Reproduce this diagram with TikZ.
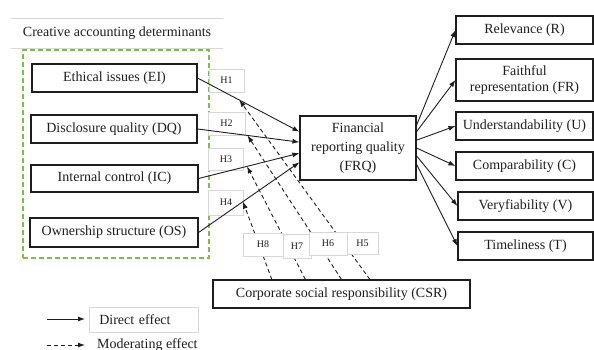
\documentclass[tikz,border=0pt]{standalone}
\usepackage{fontspec}
\setmainfont{Liberation Serif}
\usetikzlibrary{arrows.meta,calc}
\definecolor{inkc}{RGB}{30,30,30}
\definecolor{grp}{RGB}{120,192,70}
\definecolor{lbl}{RGB}{215,215,215}
\begin{document}
\begin{tikzpicture}[x=1pt,y=-1pt,
  box/.style={draw=inkc,line width=1.1pt,font=\fontsize{14}{16.5}\selectfont,text=inkc,inner sep=0pt,align=center},
  hlab/.style={draw=lbl,fill=white,line width=0.6pt,font=\fontsize{10}{12}\selectfont,text=inkc,inner sep=0pt},
  plain/.style={font=\fontsize{14}{16.5}\selectfont,text=inkc,inner sep=0pt},
  direct/.style={draw=inkc,line width=0.9pt,-{Latex[length=7pt,width=5pt]}},
  moder/.style={direct,dash pattern=on 4pt off 3pt},
]
\useasboundingbox (0,0) rectangle (594,350);

% group heading and dashed group frame
\node[plain,minimum width=212pt,minimum height=29pt] (title) at (117,33.5) {Creative accounting determinants};
\draw[lbl,line width=0.7pt] (title.north west) -- (title.north east);
\draw[lbl,line width=0.7pt] (title.south west) -- (title.south east);
\node[draw=grp,line width=1.2pt,dash pattern=on 5pt off 3pt,minimum width=186pt,minimum height=208pt,inner sep=0pt] (grpbox) at (116,154) {};

% determinants
\node[box,minimum width=165pt,minimum height=28pt] (ei) at (114.5,78) {Ethical issues (EI)};
\node[box,minimum width=166pt,minimum height=28pt] (dq) at (114,129) {Disclosure quality (DQ)};
\node[box,minimum width=167pt,minimum height=27pt] (ic) at (114.5,178.5) {Internal control (IC)};
\node[box,minimum width=168pt,minimum height=29pt] (os) at (114,232.5) {Ownership structure (OS)};

% central construct
\node[box,minimum width=116pt,minimum height=64pt,font=\fontsize{14}{19}\selectfont] (frq) at (358,148) {Financial\\reporting quality\\(FRQ)};

% qualitative characteristics
\node[box,minimum width=137pt,minimum height=28pt] (r) at (524.5,30) {Relevance (R)};
\node[box,minimum width=137pt,minimum height=42pt] (fr) at (524.5,80) {Faithful\\representation (FR)};
\node[box,minimum width=137pt,minimum height=28pt] (u) at (524.5,126) {Understandability (U)};
\node[box,minimum width=137pt,minimum height=28pt] (c) at (524.5,166) {Comparability (C)};
\node[box,minimum width=135pt,minimum height=28pt] (v) at (525.5,206) {Veryfiability (V)};
\node[box,minimum width=135pt,minimum height=28pt] (t) at (525.5,246) {Timeliness (T)};

% moderator
\node[box,minimum width=257pt,minimum height=28pt] (csr) at (341.5,294) {Corporate social responsibility (CSR)};

% hypothesis labels of the direct paths
\node[hlab,minimum width=35pt,minimum height=23pt] (h1) at (226.5,80.5) {H1};
\node[hlab,minimum width=37pt,minimum height=23pt] (h2) at (226.5,123.5) {H2};
\node[hlab,minimum width=35pt,minimum height=22pt] (h3) at (226,159) {H3};
\node[hlab,minimum width=35pt,minimum height=25pt] (h4) at (226,202.5) {H4};

% direct effects
\draw[direct] (ei.east) -- coordinate[pos=0.41] (p1) ($(frq.north west)!0.25!(frq.south west)$);
\draw[direct] (dq.east) -- coordinate[pos=0.49] (p2) ($(frq.north west)!0.41!(frq.south west)$);
\draw[direct] (ic.east) -- coordinate[pos=0.48] (p3) ($(frq.north west)!0.58!(frq.south west)$);
\draw[direct] (os.east) -- coordinate[pos=0.44] (p4) ($(frq.north west)!0.72!(frq.south west)$);

\draw[direct] ($(frq.north east)!0.15!(frq.south east)$) -- (r.west);
\draw[direct] ($(frq.north east)!0.25!(frq.south east)$) -- (fr.west);
\draw[direct] ($(frq.north east)!0.38!(frq.south east)$) -- (u.west);
\draw[direct] ($(frq.north east)!0.50!(frq.south east)$) -- (c.west);
\draw[direct] ($(frq.north east)!0.62!(frq.south east)$) -- (v.west);
\draw[direct] ($(frq.north east)!0.75!(frq.south east)$) -- (t.west);

% moderating effects
\draw[moder] ($(csr.north west)!0.61!(csr.north east)$) -- (p1);
\draw[moder] ($(csr.north west)!0.50!(csr.north east)$) -- (p2);
\draw[moder] ($(csr.north west)!0.36!(csr.north east)$) -- (p3);
\draw[moder] ($(csr.north west)!0.23!(csr.north east)$) -- (p4);

% hypothesis labels of the moderating paths (white boxes cover the dashed lines)
\node[hlab,minimum width=40pt,minimum height=23pt] (h8) at (263,244.5) {H8};
\node[hlab,minimum width=28pt,minimum height=24pt] (h7) at (297,246) {H7};
\node[hlab,minimum width=38pt,minimum height=23pt] (h6) at (328,243.5) {H6};
\node[hlab,minimum width=31pt,minimum height=22pt] (h5) at (362.5,243) {H5};

% legend
\coordinate (la1) at (47,319);
\coordinate (lb1) at (85,319);
\coordinate (la2) at (47,345);
\coordinate (lb2) at (85,345);
\draw[direct] (la1) -- (lb1);
\draw[moder] (la2) -- (lb2);
\node[draw=lbl,line width=0.6pt,font=\fontsize{14}{16.5}\selectfont,text=inkc,anchor=west,inner xsep=10pt,inner ysep=0pt,text width=89pt,minimum height=25pt,align=left] (ldir) at (89,319.5) {Direct effect};
\node[plain,anchor=base west] (lmod) at (97,348) {Moderating effect};
\end{tikzpicture}
\end{document}
